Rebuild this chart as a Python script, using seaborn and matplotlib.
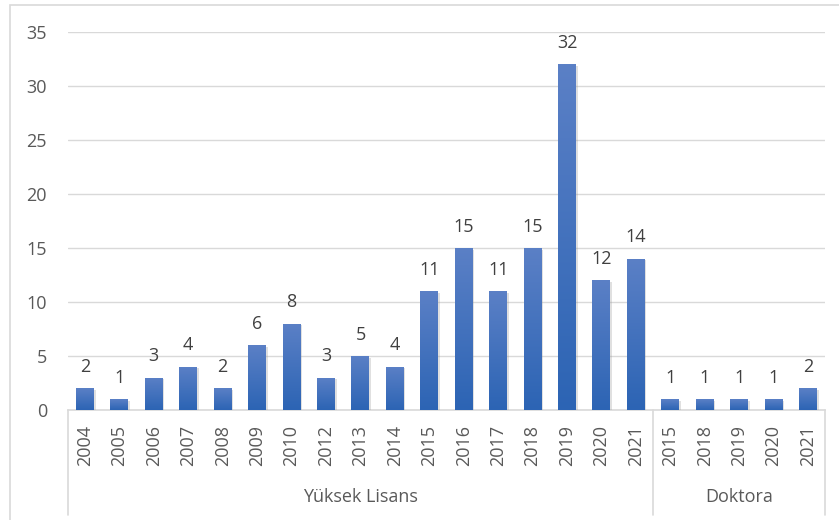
import numpy as np
import pandas as pd
import matplotlib
matplotlib.use("Agg")
import matplotlib.pyplot as plt
import matplotlib.patheffects as pe
from matplotlib.colors import LinearSegmentedColormap
from matplotlib.patches import Rectangle
import seaborn as sns

# values
yl_years = ['2004', '2005', '2006', '2007', '2008', '2009', '2010', '2012', '2013',
            '2014', '2015', '2016', '2017', '2018', '2019', '2020', '2021']
yl_counts = [2, 1, 3, 4, 2, 6, 8, 3, 5, 4, 11, 15, 11, 15, 32, 12, 14]
dr_years = ['2015', '2018', '2019', '2020', '2021']
dr_counts = [1, 1, 1, 1, 2]
groups = ['Yüksek Lisans', 'Doktora']

df = pd.DataFrame({
    'year': yl_years + dr_years,
    'count': yl_counts + dr_counts,
    'group': [groups[0]] * len(yl_years) + [groups[1]] * len(dr_years),
})
df['key'] = df['group'] + ' ' + df['year']

sns.set_theme(style='white')
plt.rcParams['font.family'] = ['Open Sans', 'DejaVu Sans']

top_col = '#5B80C6'
bot_col = '#2C64B4'
grid_col = '#D9D9D9'
text_col = '#595959'

fig = plt.figure(figsize=(8.39, 5.2), dpi=100)
ax = fig.add_axes([0.0808, 0.2115, 0.9028, 0.727])

sns.barplot(data=df, x='key', y='count', color=bot_col, width=0.52,
            saturation=1, ax=ax, zorder=3)

# gradient fill + soft shadow on every bar
cmap = LinearSegmentedColormap.from_list('bar', [bot_col, top_col])
grad = np.linspace(0, 1, 256).reshape(-1, 1)
for p in ax.patches:
    p.set_linewidth(0)
    p.set_path_effects([pe.SimplePatchShadow(offset=(1.2, -1.2), shadow_rgbFace='#9A9A9A',
                                             alpha=0.3), pe.Normal()])
    x0, w, h = p.get_x(), p.get_width(), p.get_height()
    im = ax.imshow(grad, cmap=cmap, origin='lower', aspect='auto',
                   extent=[x0, x0 + w, 0, h], zorder=4)
    im.set_clip_path(p)

for c in ax.containers:
    ax.bar_label(c, labels=[str(int(v)) for v in c.datavalues], padding=9,
                 fontsize=13, color='#404040')

n = len(df)
ax.set_xlim(-0.5, n - 0.5)
ax.set_ylim(0, 35)
ax.set_yticks(range(0, 36, 5))
ax.yaxis.grid(True, color=grid_col, lw=1)
ax.set_axisbelow(True)
for s in ['top', 'right', 'left']:
    ax.spines[s].set_visible(False)
ax.spines['bottom'].set_color(grid_col)
ax.spines['bottom'].set_linewidth(1.2)

ax.set_xticks(range(n))
ax.set_xticklabels(df['year'], rotation=90)
ax.tick_params(axis='x', length=0, pad=11, labelsize=13, labelcolor=text_col)
ax.tick_params(axis='y', length=0, pad=15, labelsize=13, labelcolor=text_col)
ax.set_xlabel('')
ax.set_ylabel('')

# second level of the category axis
trans = ax.get_xaxis_transform()
bounds = [-0.5, len(yl_years) - 0.5, n - 0.5]
for b in bounds:
    ax.plot([b, b], [0, -0.278], transform=trans, color=grid_col, lw=1.2,
            clip_on=False)
for g, lo, hi in zip(groups, bounds[:-1], bounds[1:]):
    ax.text((lo + hi) / 2, -0.23, g, transform=trans, ha='center', va='center',
            fontsize=13, color=text_col)

# chart area border
fig.add_artist(Rectangle((9.5 / 839, -0.01), 1.0, 0.9904 + 0.01, transform=fig.transFigure,
                         fill=False, ec=grid_col, lw=1.2))

fig.savefig('out.png', dpi=100)
